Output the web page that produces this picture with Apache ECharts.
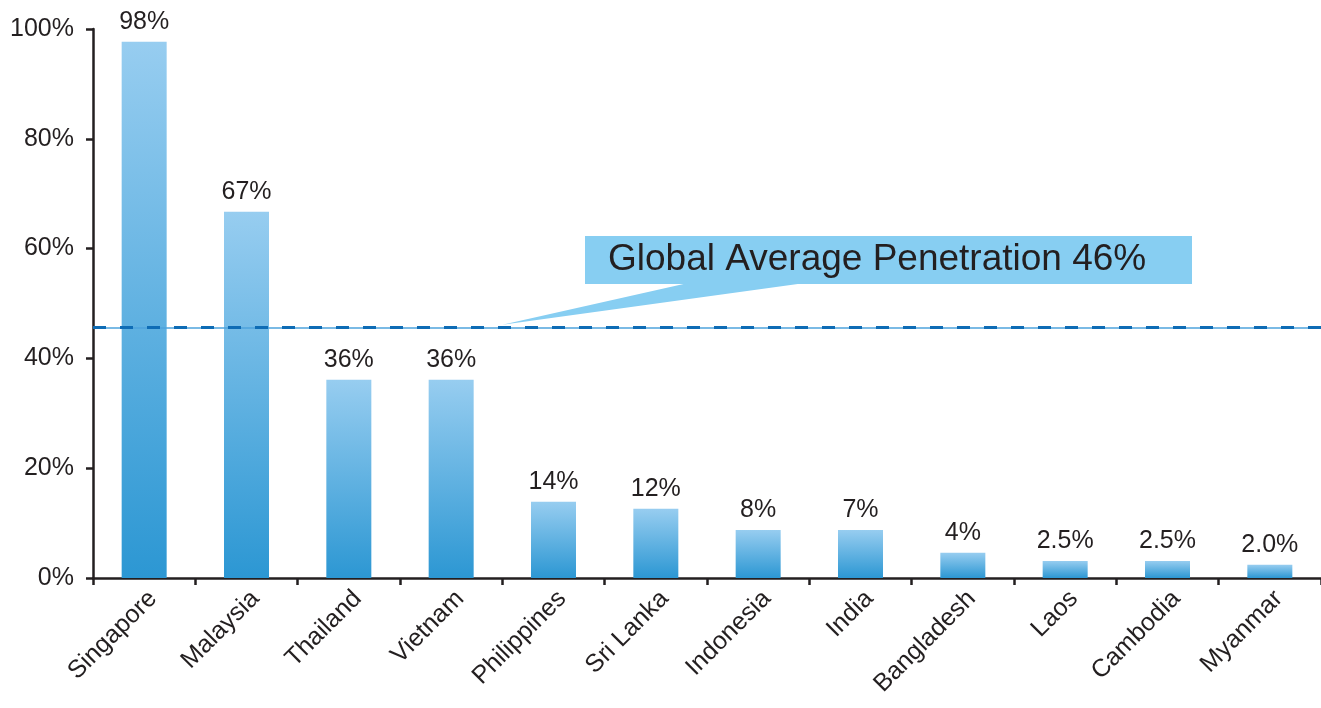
<!DOCTYPE html>
<html>
<head>
<meta charset="utf-8">
<script src="https://cdn.jsdelivr.net/npm/echarts@6/dist/echarts.min.js"></script>
<style>
html,body{margin:0;padding:0;background:#fff;}
#chart{width:1321px;height:708px;}
</style>
</head>
<body>
<div id="chart"></div>
<script>
var categories = ['Singapore','Malaysia','Thailand','Vietnam','Philippines','Sri Lanka','Indonesia','India','Bangladesh','Laos','Cambodia','Myanmar'];
var barValues = [97.7, 66.7, 36.1, 36.1, 13.9, 12.6, 8.75, 8.75, 4.6, 3.1, 3.1, 2.4];
var valueLabels = ['98%','67%','36%','36%','14%','12%','8%','7%','4%','2.5%','2.5%','2.0%'];
var yTicks = [0, 20, 40, 60, 80, 100];
var averageValue = 45.6;
var averageText = 'Global Average Penetration 46%';

var font = '"Liberation Sans", Arial, sans-serif';
var dark = '#231F20';

var chart = echarts.init(document.getElementById('chart'));
var option = {
  animation: false,
  backgroundColor: '#ffffff',
  grid: { left: 93, top: 29, width: 1235, height: 549, containLabel: false },
  xAxis: {
    type: 'category',
    data: categories,
    boundaryGap: true,
    axisLine: { lineStyle: { color: dark, width: 2.5 } },
    axisTick: { show: true, length: 7, lineStyle: { color: dark, width: 2.5 } },
    axisLabel: { rotate: 45, fontSize: 25, color: dark, fontFamily: font, margin: 8, interval: 0, verticalAlign: 'top' }
  },
  yAxis: {
    type: 'value',
    min: yTicks[0], max: yTicks[yTicks.length - 1], interval: yTicks[1] - yTicks[0],
    splitLine: { show: false },
    axisLine: { show: true, lineStyle: { color: dark, width: 2.5 } },
    axisTick: { show: true, length: 7, lineStyle: { color: dark, width: 2.5 } },
    axisLabel: { fontSize: 25, color: dark, fontFamily: font, margin: 19, formatter: '{value}%' }
  },
  series: [{
    type: 'bar',
    data: barValues,
    barWidth: 45,
    itemStyle: {
      color: new echarts.graphic.LinearGradient(0, 0, 0, 1, [
        { offset: 0, color: '#97CDF0' },
        { offset: 1, color: '#2C97D3' }
      ])
    },
    label: {
      show: true, position: 'top', distance: 7,
      fontSize: 25, color: dark, fontFamily: font,
      formatter: function (p) { return valueLabels[p.dataIndex]; }
    },
    markLine: {
      silent: true, symbol: 'none', label: { show: false }, z: 5,
      data: [
        { yAxis: averageValue, lineStyle: { type: 'solid', color: '#4EA3DC', width: 1.5 } },
        { yAxis: averageValue, lineStyle: { type: [13, 14], color: '#0E6CB5', width: 3 } }
      ]
    }
  }]
};
chart.setOption(option);

// callout box pointing to the average line at the Vietnam / Philippines boundary
var p3 = chart.convertToPixel({ gridIndex: 0 }, [categories[3], averageValue]);
var p4 = chart.convertToPixel({ gridIndex: 0 }, [categories[4], averageValue]);
var tipX = (p3[0] + p4[0]) / 2;
var tipY = p3[1] - 3;
var box = { x: 585, y: 236, w: 607, h: 48 };
chart.setOption({
  graphic: [
    {
      type: 'polygon', z: 100,
      shape: { points: [[688, box.y + box.h - 1], [805, box.y + box.h - 1], [tipX, tipY]] },
      style: { fill: '#87CEF2' }
    },
    {
      type: 'rect', z: 100,
      shape: { x: box.x, y: box.y, width: box.w, height: box.h },
      style: { fill: '#87CEF2' }
    },
    {
      type: 'text', z: 101,
      x: 608, y: box.y + box.h / 2,
      style: { text: averageText, fontSize: 37, fontFamily: font, fill: dark, verticalAlign: 'middle' }
    }
  ]
});
</script>
</body>
</html>
